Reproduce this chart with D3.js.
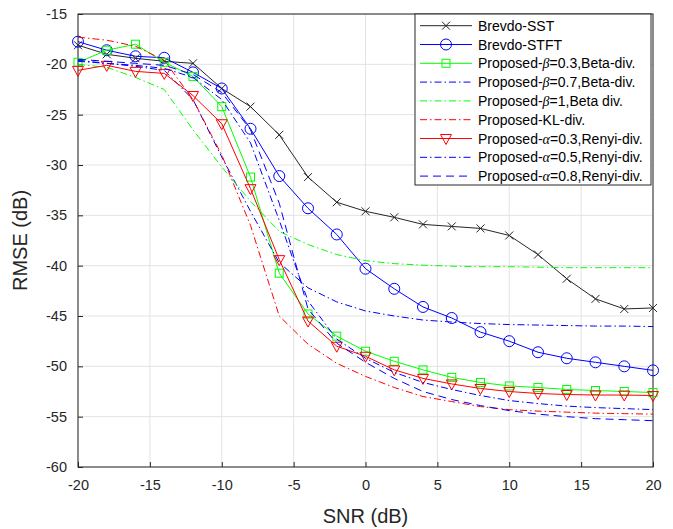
<!DOCTYPE html>
<html>
<head>
<meta charset="utf-8">
<script src="https://cdn.jsdelivr.net/npm/d3@7"></script>
<style>
  body { margin: 0; background: #fff; }
  text { font-family: "Liberation Sans", Arial, sans-serif; }
</style>
</head>
<body>
<div id="chart"></div>
<script>
// x values (SNR, dB)
const snr = [-20, -18, -16, -14, -12, -10, -8, -6, -4, -2, 0, 2, 4, 6, 8, 10, 12, 14, 16, 18, 20];

// RMSE values (dB)
const sst     = [-18.1, -19.0, -19.4, -19.7, -19.9, -22.4, -24.2, -27.0, -31.2, -33.7, -34.6, -35.2, -35.9, -36.1, -36.3, -37.0, -38.9, -41.3, -43.3, -44.3, -44.2];
const stft    = [-17.75, -18.6, -19.2, -19.35, -20.8, -22.4, -26.4, -31.1, -34.3, -36.9, -40.3, -42.3, -44.1, -45.2, -46.6, -47.5, -48.6, -49.2, -49.6, -50.0, -50.4];
const beta03  = [-19.8, -18.6, -18.0, -19.8, -21.2, -24.2, -31.2, -40.75, -44.8, -47.0, -48.5, -49.5, -50.35, -51.1, -51.6, -51.95, -52.1, -52.3, -52.4, -52.5, -52.6];
const beta07  = [-19.6, -19.9, -20.2, -20.6, -23.5, -29.2, -34.6, -39.7, -42.2, -43.6, -44.5, -45.0, -45.4, -45.6, -45.75, -45.85, -45.9, -45.95, -46.0, -46.0, -46.05];
const beta1   = [-20.0, -20.3, -21.3, -22.5, -26.5, -30.2, -33.6, -36.6, -37.9, -38.9, -39.5, -39.8, -39.95, -40.05, -40.1, -40.1, -40.15, -40.2, -40.2, -40.2, -40.2];
const kl      = [-17.3, -17.6, -18.2, -19.6, -23.5, -29.0, -36.0, -45.0, -47.8, -49.7, -51.0, -52.1, -53.0, -53.5, -54.0, -54.3, -54.45, -54.55, -54.65, -54.7, -54.75];
const alpha03 = [-20.6, -20.1, -20.7, -20.9, -23.1, -25.9, -32.35, -39.4, -45.5, -48.0, -49.0, -50.35, -51.2, -51.75, -52.2, -52.5, -52.7, -52.8, -52.85, -52.85, -52.9];
const alpha05 = [-19.7, -19.9, -20.1, -20.4, -21.3, -23.5, -27.8, -35.5, -43.5, -47.3, -49.2, -50.6, -51.6, -52.3, -52.9, -53.4, -53.7, -53.95, -54.1, -54.2, -54.3];
const alpha08 = [-19.5, -19.7, -19.9, -20.1, -21.0, -22.8, -26.5, -33.8, -44.3, -47.7, -49.6, -51.2, -52.5, -53.3, -53.9, -54.4, -54.75, -55.0, -55.2, -55.3, -55.4];

const xTicks = [-20, -15, -10, -5, 0, 5, 10, 15, 20];
const yTicks = [-15, -20, -25, -30, -35, -40, -45, -50, -55, -60];

// one entry per curve, legend order
const series = [
    { pre: "Brevdo-SST", greek: "", post: "", values: sst, color: "#262626", dash: null, marker: "x" },
    { pre: "Brevdo-STFT", greek: "", post: "", values: stft, color: "#0000ff", dash: null, marker: "o" },
    { pre: "Proposed-", greek: "β", post: "=0.3,Beta-div.", values: beta03, color: "#00ff00", dash: null, marker: "s" },
    { pre: "Proposed-", greek: "β", post: "=0.7,Beta-div.", values: beta07, color: "#0000ff", dash: "7,3,1.5,3", marker: null },
    { pre: "Proposed-", greek: "β", post: "=1,Beta div.", values: beta1, color: "#00ff00", dash: "7,3,1.5,3", marker: null },
    { pre: "Proposed-KL-div.", greek: "", post: "", values: kl, color: "#ff0000", dash: "7,3,1.5,3", marker: null },
    { pre: "Proposed-", greek: "α", post: "=0.3,Renyi-div.", values: alpha03, color: "#ff0000", dash: null, marker: "v" },
    { pre: "Proposed-", greek: "α", post: "=0.5,Renyi-div.", values: alpha05, color: "#0000ff", dash: "7,3,1.5,3", marker: null },
    { pre: "Proposed-", greek: "α", post: "=0.8,Renyi-div.", values: alpha08, color: "#0000ff", dash: "8,5", marker: null }
];

const width = 673, height = 529,
      margin = ({ top: 14, right: 20, bottom: 62, left: 78 });

let svg = d3.select("#chart")
    .append("svg")
    .attr("width", width)
    .attr("height", height);

let x = d3.scaleLinear()
    .domain([-20, 20])
    .range([margin.left, width - margin.right]);

let y = d3.scaleLinear()
    .domain([-60, -15])
    .range([height - margin.bottom, margin.top]);

// grid
svg.append("g")
    .selectAll("line")
    .data(xTicks)
    .join("line")
    .attr("x1", d => x(d)).attr("x2", d => x(d))
    .attr("y1", y(-60)).attr("y2", y(-15))
    .attr("stroke", "#e3e3e3");

svg.append("g")
    .selectAll("line")
    .data(yTicks)
    .join("line")
    .attr("x1", x(-20)).attr("x2", x(20))
    .attr("y1", d => y(d)).attr("y2", d => y(d))
    .attr("stroke", "#e3e3e3");

// axes (ticks point inwards, plain hyphen for minus like the original)
let xAxis = svg.append("g")
    .attr("transform", `translate(0,${y(-60)})`)
    .call(d3.axisBottom(x).tickValues(xTicks).tickSize(-5).tickPadding(13).tickFormat(d => String(d)));

let yAxis = svg.append("g")
    .attr("transform", `translate(${x(-20)},0)`)
    .call(d3.axisLeft(y).tickValues(yTicks).tickSize(-5).tickPadding(11).tickFormat(d => String(d)));

for (let ax of [xAxis, yAxis]) {
    ax.select(".domain").remove();
    ax.selectAll(".tick line").attr("stroke", "#262626");
    ax.selectAll(".tick text")
        .attr("fill", "#262626")
        .style("font-size", "14.5px")
        .style("font-family", "'Liberation Sans', Arial, sans-serif");
}

// plot box
svg.append("rect")
    .attr("x", x(-20))
    .attr("y", y(-15))
    .attr("width", x(20) - x(-20))
    .attr("height", y(-60) - y(-15))
    .attr("fill", "none")
    .attr("stroke", "#262626")
    .attr("stroke-width", 1);

// markers
function drawMarker(g, type, cx, cy, color) {
    if (type === "x") {
        g.append("path")
            .attr("d", `M${cx - 4},${cy - 4}L${cx + 4},${cy + 4}M${cx - 4},${cy + 4}L${cx + 4},${cy - 4}`)
            .attr("stroke", color).attr("fill", "none");
    } else if (type === "o") {
        g.append("circle")
            .attr("cx", cx).attr("cy", cy).attr("r", 5.5)
            .attr("stroke", color).attr("fill", "none");
    } else if (type === "s") {
        g.append("rect")
            .attr("x", cx - 4).attr("y", cy - 4).attr("width", 8).attr("height", 8)
            .attr("stroke", color).attr("fill", "none");
    } else if (type === "v") {
        g.append("path")
            .attr("d", `M${cx - 5.5},${cy - 4}L${cx + 5.5},${cy - 4}L${cx},${cy + 6}Z`)
            .attr("stroke", color).attr("fill", "none");
    }
}

let line = d3.line()
    .x((d, i) => x(snr[i]))
    .y(d => y(d));

for (let s of series) {
    let g = svg.append("g");
    g.append("path")
        .attr("d", line(s.values))
        .attr("fill", "none")
        .attr("stroke", s.color)
        .attr("stroke-width", 1)
        .attr("stroke-dasharray", s.dash);
    if (s.marker) {
        s.values.forEach((v, i) => drawMarker(g, s.marker, x(snr[i]), y(v), s.color));
    }
}

// legend
const lx = 415, ly = 14, lw = 236, lh = 171, rowH = 18.8;
let legend = svg.append("g");
legend.append("rect")
    .attr("x", lx).attr("y", ly).attr("width", lw).attr("height", lh)
    .attr("fill", "#fff").attr("stroke", "#262626");

series.forEach((s, i) => {
    let cy = ly + 11.7 + i * rowH;
    legend.append("line")
        .attr("x1", lx + 5).attr("x2", lx + 57)
        .attr("y1", cy).attr("y2", cy)
        .attr("stroke", s.color)
        .attr("stroke-dasharray", s.dash);
    if (s.marker) drawMarker(legend, s.marker, lx + 31, cy, s.color);
    let t = legend.append("text")
        .attr("x", lx + 63)
        .attr("y", cy + 5)
        .style("font-size", "14px")
        .attr("fill", "#000");
    t.append("tspan").text(s.pre);
    if (s.greek) {
        t.append("tspan")
            .style("font-family", "'Liberation Serif', 'DejaVu Serif', serif")
            .style("font-style", "italic")
            .text(s.greek);
        t.append("tspan").text(s.post);
    }
});

// axis labels
svg.append("text")
    .attr("x", (x(-20) + x(20)) / 2)
    .attr("y", height - 6)
    .attr("text-anchor", "middle")
    .style("font-size", "20px")
    .attr("fill", "#262626")
    .text("SNR (dB)");

svg.append("text")
    .attr("transform", `translate(27,${(y(-15) + y(-60)) / 2}) rotate(-90)`)
    .attr("text-anchor", "middle")
    .style("font-size", "20px")
    .attr("fill", "#262626")
    .text("RMSE (dB)");
</script>
</body>
</html>
